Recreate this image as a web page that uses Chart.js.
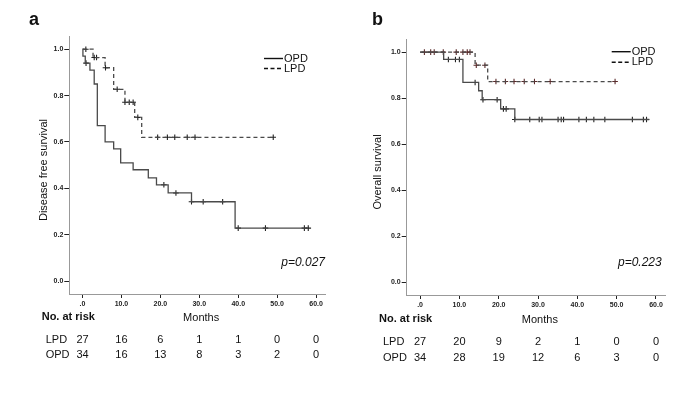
<!DOCTYPE html>
<html>
<head>
<meta charset="utf-8">
<script src="https://cdn.jsdelivr.net/npm/chart.js@4.4.1/dist/chart.umd.min.js"></script>
<style>
  body { margin: 0; background: #fff; }
  #wrap { position: relative; width: 700px; height: 394px; }
  canvas { position: absolute; top: 0; }
  #cA { left: 0; }
  #cB { left: 350px; }
</style>
</head>
<body>
<div id="wrap">
  <canvas id="cA" width="350" height="394"></canvas>
  <canvas id="cB" width="350" height="394"></canvas>
</div>
<script>
// eixos comuns
const xTicks = [0, 10, 20, 30, 40, 50, 60];
const yTicks = [0, 0.2, 0.4, 0.6, 0.8, 1.0];
const groups = ['LPD', 'OPD'];

// painel a - disease free survival
const aOpdTimes = [0, 0.1, 0.7, 1.9, 3.0, 3.8, 5.8, 8.0, 9.8, 13.0, 16.9, 19.0, 22.0, 28.0, 39.2, 58.0];
const aOpdSurv  = [1, 0.97, 0.94, 0.91, 0.85, 0.67, 0.60, 0.57, 0.51, 0.48, 0.445, 0.415, 0.38, 0.342, 0.228, 0.228];
const aOpdCensT = [0.9, 20.9, 24.0, 28.0, 31.0, 36.0, 40.0, 47.0, 57.0, 58.0];
const aOpdCensS = [0.94, 0.415, 0.38, 0.342, 0.342, 0.342, 0.228, 0.228, 0.228, 0.228];
const aLpdTimes = [0, 2.7, 5.8, 8.0, 10.9, 13.4, 15.2, 49.0];
const aLpdSurv  = [1, 0.964, 0.92, 0.827, 0.771, 0.706, 0.62, 0.62];
const aLpdCensT = [0.85, 3.0, 3.6, 5.9, 8.9, 10.9, 12.0, 13.0, 14.2, 19.3, 21.8, 23.7, 26.9, 28.9, 49.0];
const aLpdCensS = [1, 0.964, 0.964, 0.92, 0.827, 0.771, 0.771, 0.771, 0.706, 0.62, 0.62, 0.62, 0.62, 0.62, 0.62];
const aRiskLpd = [27, 16, 6, 1, 1, 0, 0];
const aRiskOpd = [34, 16, 13, 8, 3, 2, 0];

// painel b - overall survival
const bOpdTimes = [0, 6.0, 10.9, 14.9, 15.8, 20.5, 24.1, 58.3];
const bOpdSurv  = [1, 0.968, 0.868, 0.832, 0.793, 0.753, 0.707, 0.707];
const bOpdCensT = [7.2, 9.0, 10.0, 14.0, 16.0, 19.6, 21.2, 21.9, 24.1, 27.9, 30.3, 31.0, 35.1, 35.9, 36.5, 40.4, 42.3, 44.2, 47.0, 54.0, 56.8, 57.6];
const bOpdCensS = [0.968, 0.968, 0.968, 0.868, 0.793, 0.793, 0.753, 0.753, 0.707, 0.707, 0.707, 0.707, 0.707, 0.707, 0.707, 0.707, 0.707, 0.707, 0.707, 0.707, 0.707, 0.707];
const bLpdTimes = [0, 14.0, 17.2, 49.6];
const bLpdSurv  = [1, 0.943, 0.872, 0.872];
const bLpdCensT = [1.1, 2.7, 3.6, 5.9, 9.2, 10.9, 12.0, 12.7, 14.3, 16.5, 19.3, 21.7, 23.9, 26.5, 29.1, 33.1, 49.6];
const bLpdCensS = [1, 1, 1, 1, 1, 1, 1, 1, 0.943, 0.943, 0.872, 0.872, 0.872, 0.872, 0.872, 0.872, 0.872];
const bRiskLpd = [27, 20, 9, 2, 1, 0, 0];
const bRiskOpd = [34, 28, 19, 12, 6, 3, 0];

const FONT = '"Liberation Sans", Arial, sans-serif';
const LINE = '#4a4a4a';

function pts(xs, ys) {
    return xs.map((x, i) => ({ x: x, y: ys[i] }));
}

// degrau horizontal primeiro, depois vertical (Kaplan-Meier)
function curve(xs, ys, dashed) {
    return {
        data: pts(xs, ys),
        stepped: 'before',
        borderColor: LINE,
        borderWidth: 1.3,
        borderDash: dashed ? [4, 3] : [],
        pointRadius: 0,
        fill: false
    };
}

function censor(xs, ys, color) {
    return {
        data: pts(xs, ys),
        showLine: false,
        pointStyle: 'cross',
        pointRadius: 2.8,
        borderColor: color,
        borderWidth: 1.1,
        pointHoverRadius: 0
    };
}

// textos extras: letra, titulo do eixo, legenda, p-valor, tabela de risco
function extrasPlugin(cfg) {
    return {
        id: 'extras',
        afterDraw(chart) {
            const ctx = chart.ctx;
            const xs = chart.scales.x;
            const area = chart.chartArea;
            ctx.save();
            ctx.fillStyle = '#111';

            ctx.font = 'bold 18px ' + FONT;
            ctx.textBaseline = 'alphabetic';
            ctx.textAlign = 'left';
            ctx.fillText(cfg.letter, cfg.letterX, 25);

            // titulo do eixo y
            ctx.save();
            ctx.translate(cfg.yTitleX, cfg.yTitleY);
            ctx.rotate(-Math.PI / 2);
            ctx.font = '11px ' + FONT;
            ctx.textAlign = 'center';
            ctx.textBaseline = 'middle';
            ctx.fillText(cfg.yTitle, 0, 0);
            ctx.restore();

            // legenda
            ctx.font = '11px ' + FONT;
            ctx.textBaseline = 'middle';
            ctx.strokeStyle = '#111';
            ctx.lineWidth = 1.4;
            [['OPD', [], cfg.legY[0]], ['LPD', [4, 2.5], cfg.legY[1]]].forEach(([lab, dash, y]) => {
                ctx.setLineDash(dash);
                ctx.beginPath();
                ctx.moveTo(cfg.legX, y);
                ctx.lineTo(cfg.legX + 19, y);
                ctx.stroke();
                ctx.fillText(lab, cfg.legX + 20, y);
            });
            ctx.setLineDash([]);

            // p-valor
            ctx.font = 'italic 12px ' + FONT;
            ctx.textAlign = 'right';
            ctx.fillText(cfg.pText, cfg.pX, 263);

            // Months
            ctx.font = '11px ' + FONT;
            ctx.textAlign = 'center';
            ctx.fillText('Months', (area.left + area.right) / 2 + 4, cfg.monthsY);

            ctx.font = 'bold 11px ' + FONT;
            ctx.textAlign = 'left';
            ctx.fillText('No. at risk', cfg.riskX, cfg.monthsY - 1);

            // tabela de risco
            ctx.font = '11px ' + FONT;
            [cfg.riskLpd, cfg.riskOpd].forEach((row, r) => {
                const y = cfg.rowY[r];
                ctx.textAlign = 'left';
                ctx.fillText(groups[r], cfg.riskX + 4, y);
                ctx.textAlign = 'center';
                row.forEach((n, i) => {
                    ctx.fillText(String(n), xs.getPixelForValue(xTicks[i]), y);
                });
            });
            ctx.restore();
        }
    };
}

function makePanel(id, cfg) {
    const tickFont = { family: FONT, size: 7, weight: 'bold' };
    return new Chart(document.getElementById(id), {
        type: 'line',
        data: { datasets: cfg.datasets },
        options: {
            responsive: false,
            animation: false,
            events: [],
            layout: { padding: cfg.padding },
            plugins: { legend: { display: false }, tooltip: { enabled: false } },
            scales: {
                x: {
                    type: 'linear',
                    min: -3.4,
                    max: cfg.xMax,
                    afterBuildTicks: s => { s.ticks = xTicks.map(v => ({ value: v })); },
                    afterFit: s => { s.height = cfg.xHeight; },
                    ticks: {
                        font: tickFont, color: '#222', padding: 2, maxRotation: 0, autoSkip: false,
                        callback: v => (v === 0 ? '.0' : v.toFixed(1))
                    },
                    grid: { drawOnChartArea: false, tickLength: 4, tickColor: '#222' },
                    border: { color: '#999', width: 1 }
                },
                y: {
                    min: -0.056,
                    max: 1.057,
                    afterBuildTicks: s => { s.ticks = yTicks.map(v => ({ value: v })); },
                    afterFit: s => { s.width = cfg.yWidth; },
                    ticks: {
                        font: tickFont, color: '#222', padding: 1,
                        callback: v => v.toFixed(1)
                    },
                    grid: { drawOnChartArea: false, tickLength: 5, tickColor: '#222' },
                    border: { color: '#999', width: 1 }
                }
            }
        },
        plugins: [extrasPlugin(cfg)]
    });
}

makePanel('cA', {
    datasets: [
        curve(aOpdTimes, aOpdSurv, false),
        curve(aLpdTimes, aLpdSurv, true),
        censor(aOpdCensT, aOpdCensS, '#222'),
        censor(aLpdCensT, aLpdCensS, '#222')
    ],
    padding: { left: 0, right: 25, top: 36, bottom: 0 },
    yWidth: 69.3, xHeight: 100, xMax: 62.3,
    letter: 'a', letterX: 29,
    yTitle: 'Disease free survival', yTitleX: 44, yTitleY: 170,
    legX: 264, legY: [58.5, 68.5],
    pText: 'p=0.027', pX: 325,
    monthsY: 318, riskX: 41.7, rowY: [340, 354.5],
    riskLpd: aRiskLpd, riskOpd: aRiskOpd
});

makePanel('cB', {
    datasets: [
        curve(bOpdTimes, bOpdSurv, false),
        curve(bLpdTimes, bLpdSurv, true),
        censor(bOpdCensT, bOpdCensS, '#222'),
        censor(bLpdCensT, bLpdCensS, '#5a2a2a')
    ],
    padding: { left: 0, right: 35, top: 39, bottom: 0 },
    yWidth: 56.7, xHeight: 99, xMax: 62.3,
    letter: 'b', letterX: 22,
    yTitle: 'Overall survival', yTitleX: 28, yTitleY: 172,
    legX: 261.7, legY: [51.7, 62.3],
    pText: 'p=0.223', pX: 311.7,
    monthsY: 319.5, riskX: 29, rowY: [342.3, 357.7],
    riskLpd: bRiskLpd, riskOpd: bRiskOpd
});
</script>
</body>
</html>
